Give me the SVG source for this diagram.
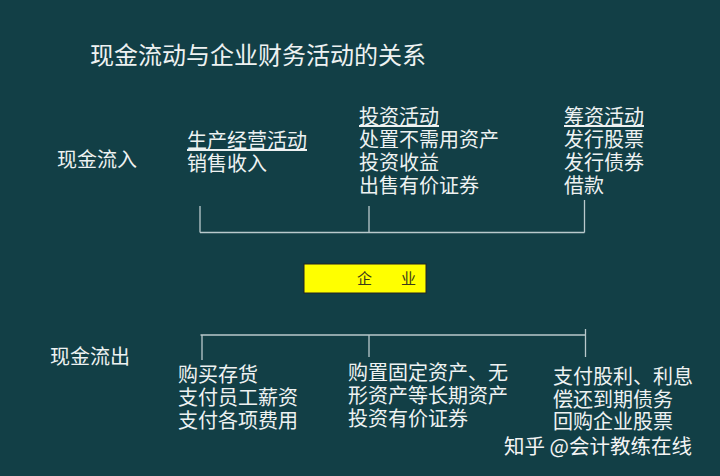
<svg xmlns="http://www.w3.org/2000/svg" width="720" height="476" viewBox="0 0 720 476">
<style>
  text { font-family: "Noto Sans CJK SC", "Noto Sans", sans-serif; fill: #eef2f2; }
  .t { font-size: 24px; }
  .lab { font-size: 20px; }
  .it { font-size: 20px; }
  .u { text-decoration: underline; }
  .ln { stroke: #b9c9cc; stroke-width: 1.3; fill: none; }
  .ent { font-size: 15px; fill: #3a3a1a; }
  .wm { font-size: 20.5px; fill: #f4f4f4; }
</style>
<rect width="720" height="476" fill="#123f46"/>
<g id="title"><text class="t" x="90" y="64">现金流动与企业财务活动的关系</text></g>
<g id="inflow-label"><text class="lab" x="57" y="167">现金流入</text></g>
<g id="outflow-label"><text class="lab" x="50" y="364">现金流出</text></g>
<g id="operating-in">
  <text class="it" x="187" y="148"><tspan class="u">生产经营活动</tspan><tspan x="187" dy="23">销售收入</tspan></text>
</g>
<g id="investing-in">
  <text class="it" x="359" y="124"><tspan class="u">投资活动</tspan><tspan x="359" dy="23">处置不需用资产</tspan><tspan x="359" dy="23">投资收益</tspan><tspan x="359" dy="23">出售有价证券</tspan></text>
</g>
<g id="financing-in">
  <text class="it" x="564" y="124"><tspan class="u">筹资活动</tspan><tspan x="564" dy="23">发行股票</tspan><tspan x="564" dy="23">发行债券</tspan><tspan x="564" dy="23">借款</tspan></text>
</g>
<g id="enterprise">
  <rect x="304" y="264" width="122" height="29" fill="#ffff00" stroke="#222" stroke-width="1"/>
  <text class="ent" x="357" y="284">企<tspan x="401">业</tspan></text>
</g>
<g id="operating-out">
  <text class="it" x="178" y="382">购买存货<tspan x="178" dy="23">支付员工薪资</tspan><tspan x="178" dy="23">支付各项费用</tspan></text>
</g>
<g id="investing-out">
  <text class="it" x="348" y="380">购置固定资产、无<tspan x="348" dy="23">形资产等长期资产</tspan><tspan x="348" dy="23">投资有价证券</tspan></text>
</g>
<g id="financing-out">
  <text class="it" x="553" y="384">支付股利、利息<tspan x="553" dy="23">偿还到期债务</tspan><tspan x="553" dy="22">回购企业股票</tspan></text>
</g>
<g id="connectors">
  <path class="ln" d="M200 206 V232.5 M369 206 V232.5 M584.5 200 V232.5 M200 232.5 H584.5"/>
  <path class="ln" d="M200.5 335 H585.5 M202 335 V360 M369 335 V357 M585.5 329 V357"/>
</g>
<g id="watermark"><text class="wm" x="504" y="454">知乎 @会计教练在线</text></g>
</svg>
